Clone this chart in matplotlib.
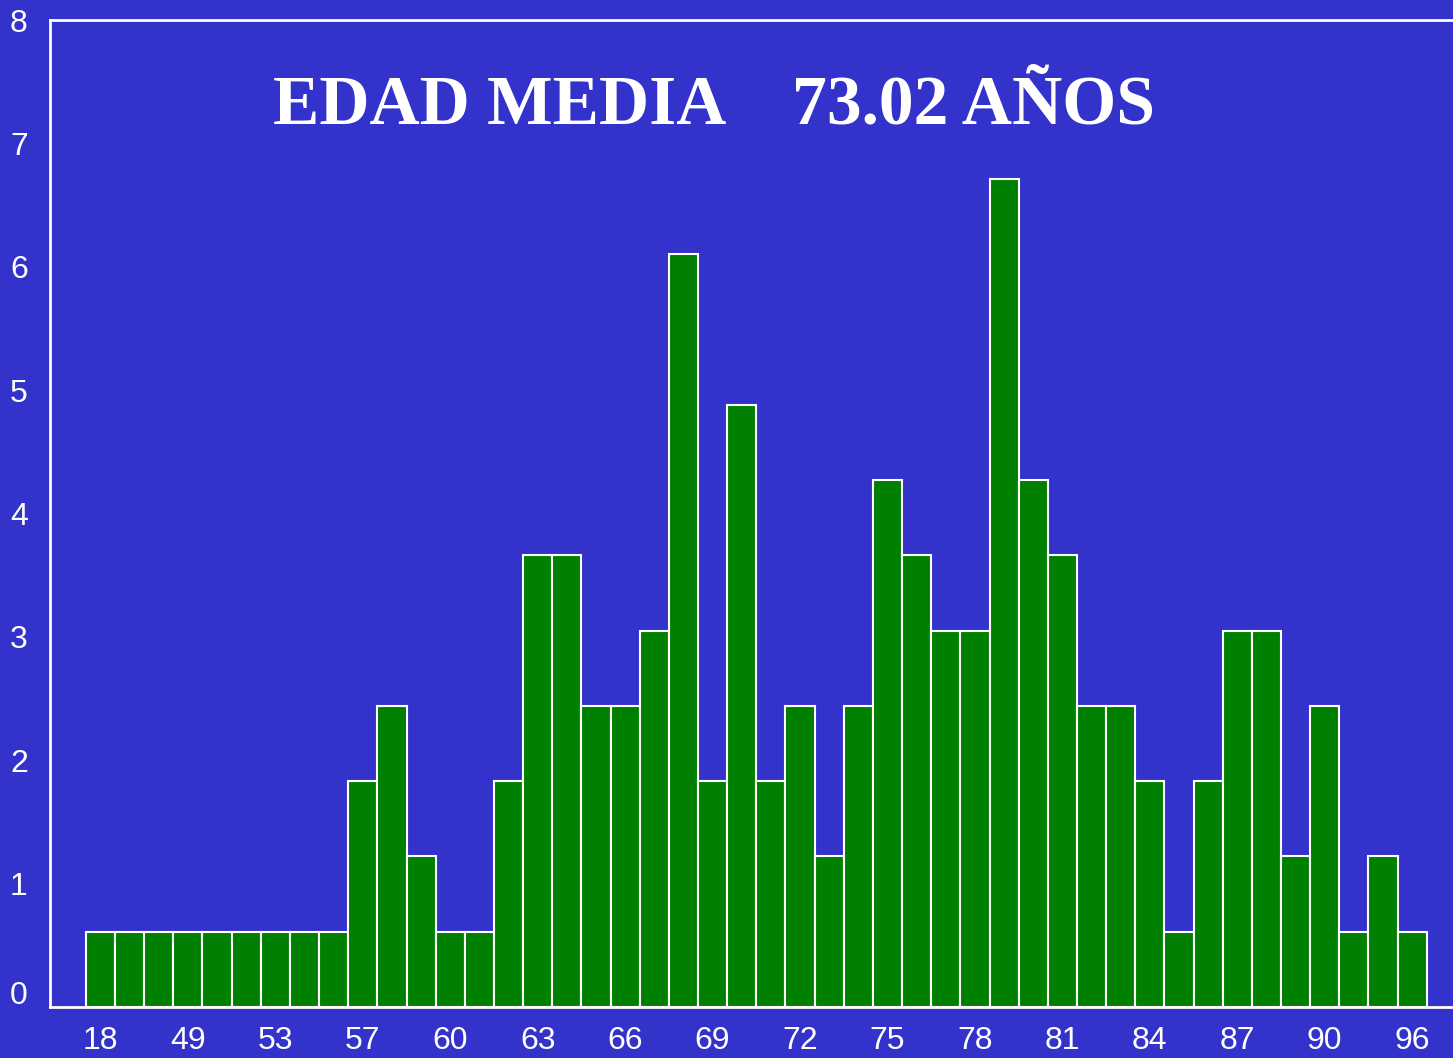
import matplotlib
matplotlib.use("Agg")
import matplotlib.pyplot as plt
import matplotlib.transforms as mtrans
import numpy as np

# Percentage of patients per age (one bar per age group)
values = [0.61, 0.61, 0.61, 0.61, 0.61, 0.61, 0.61, 0.61, 0.61, 1.83,
          2.44, 1.22, 0.61, 0.61, 1.83, 3.66, 3.66, 2.44, 2.44, 3.05,
          6.10, 1.83, 4.88, 1.83, 2.44, 1.22, 2.44, 4.27, 3.66, 3.05,
          3.05, 6.71, 4.27, 3.66, 2.44, 2.44, 1.83, 0.61, 1.83, 3.05,
          3.05, 1.22, 2.44, 0.61, 1.22, 0.61]
tick_labels = ["18", "49", "53", "57", "60", "63", "66", "69", "72", "75",
               "78", "81", "84", "87", "90", "96"]
yticks = [0, 1, 2, 3, 4, 5, 6, 7, 8]
title_text = "EDAD MEDIA    73.02 AÑOS"

bg = "#3333CC"
W, H = 1453, 1058
fig = plt.figure(figsize=(W / 100, H / 100), dpi=100, facecolor=bg)
ax = fig.add_axes([50 / W, 1 - 1007 / H, 1 - 50 / W, (1007 - 20) / H])
ax.set_facecolor(bg)

x = np.arange(len(values))
ax.bar(x, values, width=1.0, color="#008000", edgecolor="white", linewidth=1.5)

ax.set_xlim(-1.73, 46.4)
ax.set_ylim(0, 8)

ax.set_xticks(x[::3])
ax.set_xticklabels(tick_labels)
ax.set_yticks(yticks)
ax.set_yticklabels([str(v) for v in yticks])
ax.tick_params(axis="both", length=0, colors="white", labelsize=23)
ax.tick_params(axis="x", pad=14)
ax.tick_params(axis="y", pad=16)
for lab in ax.get_xticklabels() + ax.get_yticklabels():
    lab.set_fontfamily("Liberation Sans")
# lift the "0" label slightly as in the reference
zero = ax.get_yticklabels()[0]
zero.set_transform(zero.get_transform() + mtrans.ScaledTranslation(0, 14 / 100, fig.dpi_scale_trans))

for s in ["left", "bottom", "top"]:
    ax.spines[s].set_color("white")
    ax.spines[s].set_linewidth(2)
ax.spines["right"].set_visible(False)

fig.text(714 / W, 1 - 107 / H, title_text, ha="center", va="center",
         color="white", fontsize=50, fontweight="bold",
         family="Liberation Serif")

fig.savefig("out.png", dpi=100, facecolor=bg)
